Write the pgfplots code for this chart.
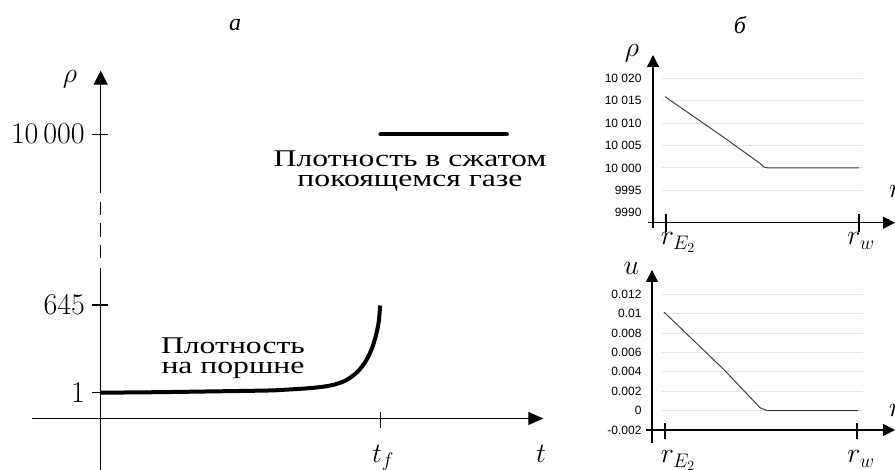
\RequirePackage{fix-cm}
\documentclass[border=0pt]{standalone}
\usepackage{fontspec}
\usepackage{pgfplots}
\pgfplotsset{compat=1.18}
\usetikzlibrary{arrows.meta}
\newfontfamily\rufont{Liberation Serif}[FakeStretch=1.32]
\newfontfamily\ruitfont{Liberation Serif Italic}
\newfontfamily\sansfont{Liberation Sans}
\begin{document}
\begin{tikzpicture}[x=1pt,y=1pt]
\useasboundingbox (0,0) rectangle (895,470);
% ---------- panel a ----------
\begin{axis}[at={(100.7pt,51.5pt)}, anchor=south west, scale only axis,
  width=448pt, height=284.3pt, xmin=0, xmax=1.6, ymin=0, ymax=284.3,
  axis lines*=left, axis line style={draw=none}, clip=false,
  xtick=\empty, ytick={25.8,113.5,284.3}, yticklabels={$1$,$645$,$10\,000$},
  major tick length=0pt,
  yticklabel style={font=\fontsize{30}{34}\selectfont, inner sep=0pt, anchor=east, xshift=-15.7pt}]
\addplot[black, line width=4pt, smooth, tension=0.5] coordinates {
 (0,25.8) (0.2,26.3) (0.4,27.1) (0.60,28.0) (0.66,28.8) (0.72,29.8) (0.76,30.7)
 (0.80,32.0) (0.83,33.6) (0.86,36.2) (0.88,38.8) (0.90,42.6) (0.92,47.5) (0.94,54.5)
 (0.955,61.5) (0.97,71) (0.98,80) (0.988,89) (0.994,99) (0.998,113)};
\addplot[black, line width=4.5pt, line cap=round] coordinates {(1.0,284.3) (1.45,284.3)};
\end{axis}
% axes arrows panel a
\draw[line width=1.3pt] (100.7,0) -- (100.7,201.7);
\draw[line width=1.3pt] (100.7,211.7) -- (100.7,225) (100.7,233.3) -- (100.7,246.7) (100.7,255) -- (100.7,268.3);
\draw[line width=1.3pt,-{Triangle[length=14pt,width=14pt]}] (100.7,276.7) -- (100.7,399.3);
\draw[line width=1.3pt,-{Triangle[length=15pt,width=13pt]}] (31.7,51.5) -- (543.3,51.5);
\foreach \yy in {335.7,165,77.3} \draw[line width=1.3pt] (91.7,\yy) -- (108,\yy);
\draw[line width=1.3pt] (380.7,58.3) -- (380.7,42);
\node[font=\fontsize{28}{32}\selectfont] at (70,391) {$\rho$};
\node[font=\fontsize{28}{32}\selectfont, anchor=base] at (541,7.3) {$t$};
\node[font=\fontsize{28}{32}\selectfont, anchor=base] at (383,7.3) {$t_f$};
\begin{scope}[every node/.style={font=\rufont\fontsize{24}{24}\selectfont, anchor=base, inner sep=0pt}]
\node at (410,303.3) {Плотность в сжатом};
\node at (410,283.3) {покоящемся газе};
\node at (233,116.7) {Плотность};
\node at (233,96.7) {на поршне};
\end{scope}
\node[font=\ruitfont\fontsize{24}{26}\selectfont] at (235,445) {а};
\node[font=\ruitfont\fontsize{24}{26}\selectfont] at (740,445) {б};
% ---------- panel b, top ----------
\begin{axis}[at={(662pt,257.3pt)}, anchor=south west, scale only axis,
  width=201pt, height=134.4pt, xmin=-0.0155, xmax=1.0206, ymin=9990, ymax=10020,
  axis lines*=left, axis line style={draw=none}, clip=false, scaled y ticks=false,
  xtick=\empty, ytick={9995,10000,10005,10010,10015,10020},
  yticklabels={9995,10 000,10 005,10 010,10 015,10 020},
  extra y ticks={9990}, extra y tick labels={9990}, extra y tick style={grid=none},
  ymajorgrids, grid style={black!10, line width=0.8pt},
  major tick length=0pt,
  yticklabel style={font=\sansfont\fontsize{12}{14}\selectfont, inner sep=0pt, anchor=east, xshift=-20.3pt}]
\addplot[black!75, line width=1pt] coordinates {
 (0,10015.9) (0.30,10006.9) (0.49,10001) (0.51,10000.2) (0.53,10000) (1.0,10000)};
\end{axis}
\draw[line width=1.3pt,-{Triangle[length=12pt,width=12pt]}] (653,242) -- (653,415);
\draw[line width=1.3pt,-{Triangle[length=12pt,width=12pt]}] (648,247.3) -- (895,247.3);
\draw[line width=1.3pt] (666,256) -- (666,238) (859,256) -- (859,238);
\node[font=\fontsize{28}{32}\selectfont] at (632,417) {$\rho$};
\node[font=\fontsize{28}{32}\selectfont, anchor=base] at (678,225) {$r_{E_2}$};
\node[font=\fontsize{28}{32}\selectfont, anchor=base] at (861,225) {$r_w$};
\node[font=\fontsize{28}{32}\selectfont, anchor=base west, inner sep=0pt] at (889,272) {$r$};
% ---------- panel b, bottom ----------
\begin{axis}[at={(662pt,40pt)}, anchor=south west, scale only axis,
  width=201pt, height=135.7pt, xmin=-0.0155, xmax=1.0206, ymin=-0.002, ymax=0.012,
  axis lines*=left, axis line style={draw=none}, clip=false, scaled y ticks=false,
  xtick=\empty, ytick={0,0.002,0.004,0.006,0.008,0.01,0.012},
  yticklabels={0,0.002,0.004,0.006,0.008,0.01,0.012},
  extra y ticks={-0.002}, extra y tick labels={-0.002}, extra y tick style={grid=none},
  ymajorgrids, grid style={black!10, line width=0.8pt},
  major tick length=0pt,
  yticklabel style={font=\sansfont\fontsize{12}{14}\selectfont, inner sep=0pt, anchor=east, xshift=-20.3pt}]
\addplot[black!75, line width=1pt] coordinates {
 (-0.005,0.01016) (0.30,0.0043) (0.49,0.0003) (0.526,0) (0.995,0)};
\end{axis}
\draw[line width=1.3pt,-{Triangle[length=12pt,width=12pt]}] (652,27) -- (652,200);
\draw[line width=1.3pt,-{Triangle[length=12pt,width=12pt]}] (646,40) -- (895,40);
\draw[line width=1.3pt] (665,47) -- (665,31) (857,47) -- (857,31);
\node[font=\fontsize{28}{32}\selectfont] at (631.5,201.5) {$u$};
\node[font=\fontsize{28}{32}\selectfont, anchor=base] at (678,7) {$r_{E_2}$};
\node[font=\fontsize{28}{32}\selectfont, anchor=base] at (861,7) {$r_w$};
\node[font=\fontsize{28}{32}\selectfont, anchor=base west, inner sep=0pt] at (889,53) {$r$};
\end{tikzpicture}
\end{document}
